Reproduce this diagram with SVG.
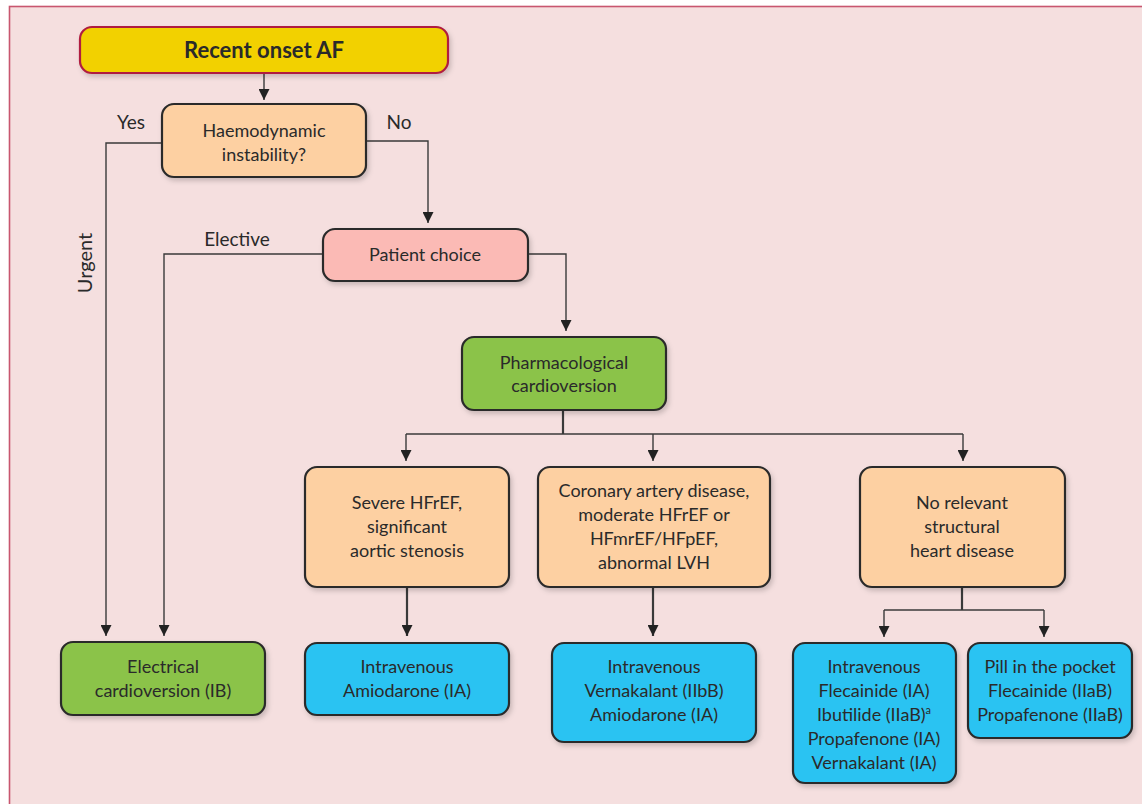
<svg xmlns="http://www.w3.org/2000/svg" width="1142" height="804" viewBox="0 0 1142 804">
<defs>
<marker id="ah" viewBox="0 0 10 10" refX="10" refY="5" markerWidth="11" markerHeight="11" markerUnits="userSpaceOnUse" orient="auto">
<path d="M0,0 L10,5 L0,10 Z" fill="#222"/>
</marker>
<filter id="sh" x="-10%" y="-10%" width="125%" height="130%">
<feDropShadow dx="2" dy="3" stdDeviation="2.5" flood-color="#000" flood-opacity="0.18"/>
</filter>
</defs>
<style>
.box{stroke:#2a2a2a;stroke-width:2.2;filter:url(#sh)}
.t{font-family:Lato,"Open Sans",sans-serif;font-size:18px;fill:#2a2a2a;text-anchor:middle}
.lbl{font-family:Lato,"Open Sans",sans-serif;font-size:19px;fill:#2a2a2a}
.c{fill:none;stroke:#3a3a3a;stroke-width:1.4}
.ca{fill:none;stroke:#3a3a3a;stroke-width:1.4;marker-end:url(#ah)}
.peach{fill:#fdd0a2}
.pink{fill:#fbbab5}
.green{fill:#8bc34a}
.blue{fill:#29c3f2}
</style>
<rect x="0" y="0" width="1142" height="804" fill="#ffffff"/>
<rect x="9.5" y="6.5" width="1145" height="810" fill="#f5dfdf" stroke="#c8566f" stroke-width="1.6"/>

<g id="connectors">
<path class="ca" d="M264,73 V100"/>
<path class="ca" d="M162,143 H106 V636"/>
<path class="ca" d="M366,141 H428 V223"/>
<path class="ca" d="M323,254 H164 V636"/>
<path class="ca" d="M528,254 H566 V331"/>
<path class="c" d="M563,410 V434" style="stroke-width:2.2"/>
<path class="c" d="M406,434 H963"/>
<path class="ca" d="M406,434 V461"/>
<path class="ca" d="M653,434 V461"/>
<path class="ca" d="M963,434 V461"/>
<path class="ca" d="M407,587 V636" style="stroke-width:2.2"/>
<path class="ca" d="M653,587 V636" style="stroke-width:2.2"/>
<path class="c" d="M962,587 V610" style="stroke-width:2.2"/>
<path class="c" d="M884,610 H1044"/>
<path class="ca" d="M884,610 V637"/>
<path class="ca" d="M1044,610 V637"/>
</g>

<g id="labels">
<text class="lbl" x="131" y="129" text-anchor="middle">Yes</text>
<text class="lbl" x="399" y="129" text-anchor="middle">No</text>
<text class="lbl" x="237" y="246" text-anchor="middle">Elective</text>
<text class="lbl" transform="translate(92,263) rotate(-90)" text-anchor="middle" style="font-size:20px">Urgent</text>
</g>

<g id="n-recent">
<rect x="80" y="27" width="368" height="46" rx="12" fill="#f2d100" stroke="#b01f40" stroke-width="2.2" filter="url(#sh)"/>
<text class="t" x="264" y="58" style="font-size:22px;font-weight:bold">Recent onset AF</text>
</g>

<g id="n-haemo">
<rect class="box peach" x="162" y="104" width="204" height="73" rx="12"/>
<text class="t" x="264" y="137">Haemodynamic</text>
<text class="t" x="264" y="161">instability?</text>
</g>

<g id="n-choice">
<rect class="box pink" x="323" y="229" width="205" height="52" rx="12"/>
<text class="t" x="425" y="261">Patient choice</text>
</g>

<g id="n-pharm">
<rect class="box green" x="462" y="337" width="204" height="73" rx="12"/>
<text class="t" x="564" y="369">Pharmacological</text>
<text class="t" x="564" y="392">cardioversion</text>
</g>

<g id="n-severe">
<rect class="box peach" x="305" y="467" width="204" height="120" rx="12"/>
<text class="t" x="407" y="509">Severe HFrEF,</text>
<text class="t" x="407" y="533">significant</text>
<text class="t" x="407" y="557">aortic stenosis</text>
</g>

<g id="n-coronary">
<rect class="box peach" x="538" y="467" width="232" height="120" rx="12"/>
<text class="t" x="654" y="497">Coronary artery disease,</text>
<text class="t" x="654" y="521">moderate HFrEF or</text>
<text class="t" x="654" y="545">HFmrEF/HFpEF,</text>
<text class="t" x="654" y="569">abnormal LVH</text>
</g>

<g id="n-norel">
<rect class="box peach" x="860" y="467" width="205" height="120" rx="12"/>
<text class="t" x="962" y="509">No relevant</text>
<text class="t" x="962" y="533">structural</text>
<text class="t" x="962" y="557">heart disease</text>
</g>

<g id="n-electrical">
<rect class="box green" x="61" y="642" width="204" height="73" rx="12"/>
<text class="t" x="163" y="673">Electrical</text>
<text class="t" x="163" y="697">cardioversion (IB)</text>
</g>

<g id="n-amio">
<rect class="box blue" x="305" y="643" width="204" height="72" rx="12"/>
<text class="t" x="407" y="673">Intravenous</text>
<text class="t" x="407" y="697">Amiodarone (IA)</text>
</g>

<g id="n-vern">
<rect class="box blue" x="552" y="643" width="204" height="99" rx="12"/>
<text class="t" x="654" y="673">Intravenous</text>
<text class="t" x="654" y="697">Vernakalant (IIbB)</text>
<text class="t" x="654" y="721">Amiodarone (IA)</text>
</g>

<g id="n-flec">
<rect class="box blue" x="793" y="643" width="163" height="140" rx="12"/>
<text class="t" x="874" y="673">Intravenous</text>
<text class="t" x="874" y="697">Flecainide (IA)</text>
<text class="t" x="874" y="721">Ibutilide (IIaB)<tspan font-size="11" dy="-7">a</tspan></text>
<text class="t" x="874" y="745">Propafenone (IA)</text>
<text class="t" x="874" y="769">Vernakalant (IA)</text>
</g>

<g id="n-pill">
<rect class="box blue" x="968" y="643" width="164" height="95" rx="12"/>
<text class="t" x="1050" y="673">Pill in the pocket</text>
<text class="t" x="1050" y="697">Flecainide (IIaB)</text>
<text class="t" x="1050" y="721">Propafenone (IIaB)</text>
</g>
</svg>
